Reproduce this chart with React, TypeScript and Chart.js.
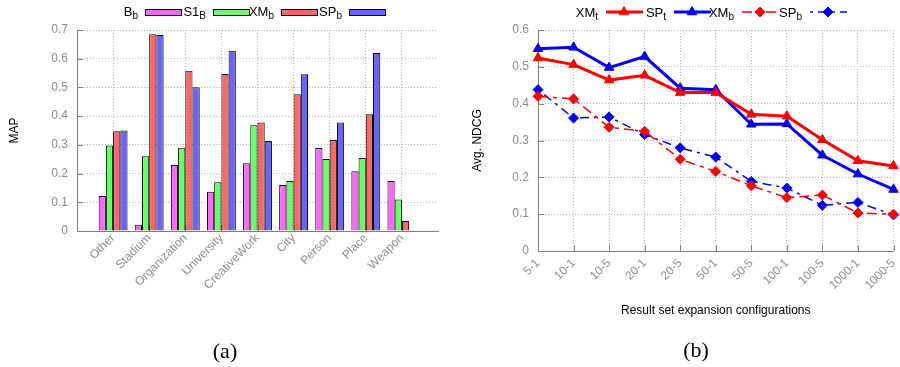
import React, { useEffect, useRef } from "react";
import { Chart, registerables } from "chart.js";

Chart.register(...registerables);

// ---- (a) MAP per entity type ----
const typeCategories = ["Other", "Stadium", "Organization", "University", "CreativeWork", "City", "Person", "Place", "Weapon"];
const mapBb = [0.122, 0.022, 0.23, 0.137, 0.236, 0.16, 0.289, 0.208, 0.174];
const mapS1B = [0.298, 0.26, 0.29, 0.17, 0.368, 0.174, 0.251, 0.254, 0.11];
const mapXMb = [0.347, 0.685, 0.558, 0.547, 0.378, 0.476, 0.317, 0.407, 0.035];
const mapSPb = [0.35, 0.683, 0.501, 0.628, 0.313, 0.546, 0.378, 0.62, null];
const mapMax = 0.7;

// ---- (b) Avg. NDCG per result set expansion configuration ----
const configs = ["5-1", "10-1", "10-5", "20-1", "20-5", "50-1", "50-5", "100-1", "100-5", "1000-1", "1000-5"];
const ndcgXMt = [0.524, 0.506, 0.464, 0.477, 0.43, 0.43, 0.371, 0.366, 0.302, 0.245, 0.231];
const ndcgSPt = [0.549, 0.553, 0.498, 0.528, 0.442, 0.438, 0.344, 0.345, 0.26, 0.209, 0.167];
const ndcgXMb = [0.42, 0.413, 0.336, 0.325, 0.249, 0.216, 0.177, 0.145, 0.152, 0.103, 0.1];
const ndcgSPb = [0.438, 0.361, 0.364, 0.316, 0.28, 0.255, 0.189, 0.171, 0.124, 0.132, 0.098];
const ndcgMax = 0.6;

const FONT = "'Liberation Sans', Arial, sans-serif";
const TICK_COLOR = "#8c8c8c";
const GRID_COLOR = "#b4b4b4";
const AXIS_COLOR = "#808080";

const fmtTick = (v: number) => (Math.abs(v) < 1e-9 ? "0" : v.toFixed(1));

// Draws "MAIN_sub" right-aligned at xRight with a lowered subscript.
function drawSubLabel(ctx: CanvasRenderingContext2D, label: string, xRight: number, baseline: number) {
  const [main, sub = ""] = label.split("_");
  ctx.save();
  ctx.fillStyle = "#000";
  ctx.textBaseline = "alphabetic";
  ctx.textAlign = "left";
  ctx.font = `13px ${FONT}`;
  const wMain = ctx.measureText(main).width;
  ctx.font = `10px ${FONT}`;
  const wSub = ctx.measureText(sub).width;
  const x0 = xRight - wMain - wSub;
  ctx.font = `13px ${FONT}`;
  ctx.fillText(main, x0, baseline);
  ctx.font = `10px ${FONT}`;
  ctx.fillText(sub, x0 + wMain, baseline + 3);
  ctx.restore();
}

function drawRotatedTitle(ctx: CanvasRenderingContext2D, text: string, x: number, y: number) {
  ctx.save();
  ctx.translate(x, y);
  ctx.rotate(-Math.PI / 2);
  ctx.fillStyle = "#000";
  ctx.font = `12px ${FONT}`;
  ctx.textAlign = "center";
  ctx.textBaseline = "middle";
  ctx.fillText(text, 0, 0);
  ctx.restore();
}

function drawCaption(ctx: CanvasRenderingContext2D, text: string, x: number, y: number) {
  ctx.save();
  ctx.fillStyle = "#000";
  ctx.font = `22px 'Liberation Serif', 'Times New Roman', serif`;
  ctx.textAlign = "center";
  ctx.textBaseline = "middle";
  ctx.fillText(text, x, y);
  ctx.restore();
}

// Short inward tick marks along the left and bottom axes.
function drawInnerTicks(chart: any, xFrom: number, xTo: number) {
  const { ctx, chartArea, scales } = chart;
  ctx.save();
  ctx.strokeStyle = AXIS_COLOR;
  ctx.lineWidth = 1;
  ctx.beginPath();
  scales.y.ticks.forEach((_t: any, i: number) => {
    const py = Math.round(scales.y.getPixelForTick(i)) + 0.5;
    ctx.moveTo(chartArea.left, py);
    ctx.lineTo(chartArea.left + 6, py);
  });
  for (let i = xFrom; i <= xTo; i++) {
    const px = Math.round(scales.x.getPixelForTick(i)) + 0.5;
    ctx.moveTo(px, chartArea.bottom);
    ctx.lineTo(px, chartArea.bottom - 6);
  }
  ctx.stroke();
  ctx.restore();
}

function drawMarker(ctx: CanvasRenderingContext2D, style: string, x: number, y: number, r: number, color: string) {
  ctx.save();
  ctx.fillStyle = color;
  ctx.strokeStyle = color;
  ctx.setLineDash([]);
  ctx.lineWidth = 1;
  ctx.beginPath();
  if (style === "triangle") {
    ctx.moveTo(x, y - r);
    ctx.lineTo(x + r * 0.87, y + r * 0.5);
    ctx.lineTo(x - r * 0.87, y + r * 0.5);
  } else {
    ctx.moveTo(x, y - r);
    ctx.lineTo(x + r, y);
    ctx.lineTo(x, y + r);
    ctx.lineTo(x - r, y);
  }
  ctx.closePath();
  ctx.fill();
  ctx.stroke();
  ctx.restore();
}

const barDecor = {
  id: "barDecor",
  beforeDatasetsDraw(chart: any) {
    drawInnerTicks(chart, 1, typeCategories.length);
  },
  afterDraw(chart: any) {
    const { ctx, chartArea } = chart;
    // key: label text then a filled sample box
    chart.data.datasets.forEach((ds: any, i: number) => {
      const textEnd = 138 + i * 68;
      drawSubLabel(ctx, ds.label, textEnd, 16);
      ctx.save();
      ctx.fillStyle = ds.backgroundColor;
      ctx.fillRect(textEnd + 7, 9, 37, 6);
      ctx.strokeStyle = "#000";
      ctx.lineWidth = 1;
      ctx.strokeRect(textEnd + 7.5, 9.5, 36, 6);
      ctx.restore();
    });
    drawRotatedTitle(ctx, "MAP", 15, (chartArea.top + chartArea.bottom) / 2);
    drawCaption(ctx, "(a)", 225, 352);
  },
};

const lineDecor = {
  id: "lineDecor",
  beforeDatasetsDraw(chart: any) {
    drawInnerTicks(chart, 0, configs.length - 1);
  },
  afterDraw(chart: any) {
    const { ctx, chartArea } = chart;
    chart.data.datasets.forEach((ds: any, i: number) => {
      const textEnd = 148 + i * 68;
      drawSubLabel(ctx, ds.label, textEnd, 17);
      const x0 = textEnd + 8;
      ctx.save();
      ctx.strokeStyle = ds.borderColor;
      ctx.lineWidth = ds.borderWidth;
      ctx.setLineDash(ds.borderDash || []);
      ctx.beginPath();
      ctx.moveTo(x0, 12);
      ctx.lineTo(x0 + 37, 12);
      ctx.stroke();
      ctx.restore();
      drawMarker(ctx, ds.pointStyle, x0 + 18, 12, ds.pointRadius, ds.borderColor);
    });
    drawRotatedTitle(ctx, "Avg. NDCG", 28, (chartArea.top + chartArea.bottom) / 2);
    ctx.save();
    ctx.fillStyle = "#000";
    ctx.font = `12px ${FONT}`;
    ctx.textAlign = "center";
    ctx.textBaseline = "middle";
    ctx.fillText("Result set expansion configurations", (chartArea.left + chartArea.right) / 2, 311);
    ctx.restore();
    drawCaption(ctx, "(b)", 246, 351);
  },
};

function yScale(max: number, width: number) {
  return {
    min: 0,
    max,
    afterFit: (s: any) => {
      s.width = width;
    },
    ticks: {
      stepSize: 0.1,
      color: TICK_COLOR,
      font: { family: FONT, size: 12 },
      padding: 9,
      callback: (v: any) => fmtTick(Number(v)),
    },
    grid: { color: GRID_COLOR, lineWidth: 1, drawTicks: false },
    border: { display: true, color: AXIS_COLOR, width: 1, dash: [1, 2] },
  };
}

function xScale(height: number, pad: number, gridColor: (c: any) => string) {
  return {
    type: "category" as const,
    offset: false,
    afterFit: (s: any) => {
      s.height = height;
      s.paddingLeft = 0;
      s.paddingRight = 0;
    },
    ticks: {
      color: TICK_COLOR,
      font: { family: FONT, size: 12 },
      minRotation: 45,
      maxRotation: 45,
      autoSkip: false,
      padding: pad,
    },
    grid: { color: gridColor, lineWidth: 1, drawTicks: false, offset: false },
    border: { display: true, color: AXIS_COLOR, width: 1, dash: [1, 2] },
  };
}

function MapChart() {
  const ref = useRef<HTMLCanvasElement | null>(null);
  useEffect(() => {
    if (!ref.current) return;
    // one empty slot on each side of the nine groups
    const labels = ["", ...typeCategories, ""];
    const pad = (arr: (number | null)[]) => [null, ...arr, null];
    const series = [
      { label: "B_b", data: mapBb, color: "#ff66ff" },
      { label: "S1_B", data: mapS1B, color: "#66ff66" },
      { label: "XM_b", data: mapXMb, color: "#ff6666" },
      { label: "SP_b", data: mapSPb, color: "#6666ff" },
    ];
    const chart = new Chart(ref.current, {
      type: "bar",
      data: {
        labels,
        datasets: series.map((s) => ({
          label: s.label,
          data: pad(s.data),
          backgroundColor: s.color,
          borderColor: "#000",
          borderWidth: 1,
          categoryPercentage: 0.8,
          barPercentage: 1.0,
        })),
      },
      options: {
        animation: false,
        responsive: false,
        layout: { padding: { top: 30, left: 0, right: 12, bottom: 0 } },
        plugins: { legend: { display: false }, tooltip: { enabled: false } },
        scales: {
          x: xScale(136, 0, (c: any) => (c.index === 0 || c.index === labels.length - 1 ? "rgba(0,0,0,0)" : GRID_COLOR)),
          y: yScale(mapMax, 77),
        },
      },
      plugins: [barDecor],
    });
    return () => chart.destroy();
  }, []);
  return <canvas ref={ref} width={450} height={367} style={{ position: "absolute", left: 0, top: 0, width: 450, height: 367 }} />;
}

function NdcgChart() {
  const ref = useRef<HTMLCanvasElement | null>(null);
  useEffect(() => {
    if (!ref.current) return;
    const series = [
      { label: "XM_t", data: ndcgXMt, color: "#ff0000", width: 3, dash: [] as number[], point: "triangle", r: 5.5 },
      { label: "SP_t", data: ndcgSPt, color: "#0000ff", width: 3, dash: [] as number[], point: "triangle", r: 5.5 },
      { label: "XM_b", data: ndcgXMb, color: "#ff0000", width: 1.5, dash: [10, 5, 4, 5], point: "rectRot", r: 5 },
      { label: "SP_b", data: ndcgSPb, color: "#0000ff", width: 1.5, dash: [3, 5, 9, 5], point: "rectRot", r: 5 },
    ];
    const chart = new Chart(ref.current, {
      type: "line",
      data: {
        labels: configs,
        datasets: series.map((s) => ({
          label: s.label,
          data: s.data,
          borderColor: s.color,
          backgroundColor: s.color,
          borderWidth: s.width,
          borderDash: s.dash,
          pointStyle: s.point as any,
          pointRadius: s.r,
          pointBorderWidth: 1,
          pointBackgroundColor: s.color,
          pointBorderColor: s.color,
          tension: 0,
          fill: false,
          clip: false as any,
        })),
      },
      options: {
        animation: false,
        responsive: false,
        layout: { padding: { top: 30, left: 0, right: 1, bottom: 0 } },
        plugins: { legend: { display: false }, tooltip: { enabled: false } },
        scales: {
          x: xScale(116, 5, (c: any) => (c.index === 0 ? "rgba(0,0,0,0)" : GRID_COLOR)),
          y: yScale(ndcgMax, 88),
        },
      },
      plugins: [lineDecor],
    });
    return () => chart.destroy();
  }, []);
  return <canvas ref={ref} width={450} height={367} style={{ position: "absolute", left: 450, top: 0, width: 450, height: 367 }} />;
}

export default function App() {
  return (
    <div style={{ position: "fixed", left: 0, top: 0, width: 900, height: 367, background: "#fff", overflow: "hidden" }}>
      <MapChart />
      <NdcgChart />
    </div>
  );
}
